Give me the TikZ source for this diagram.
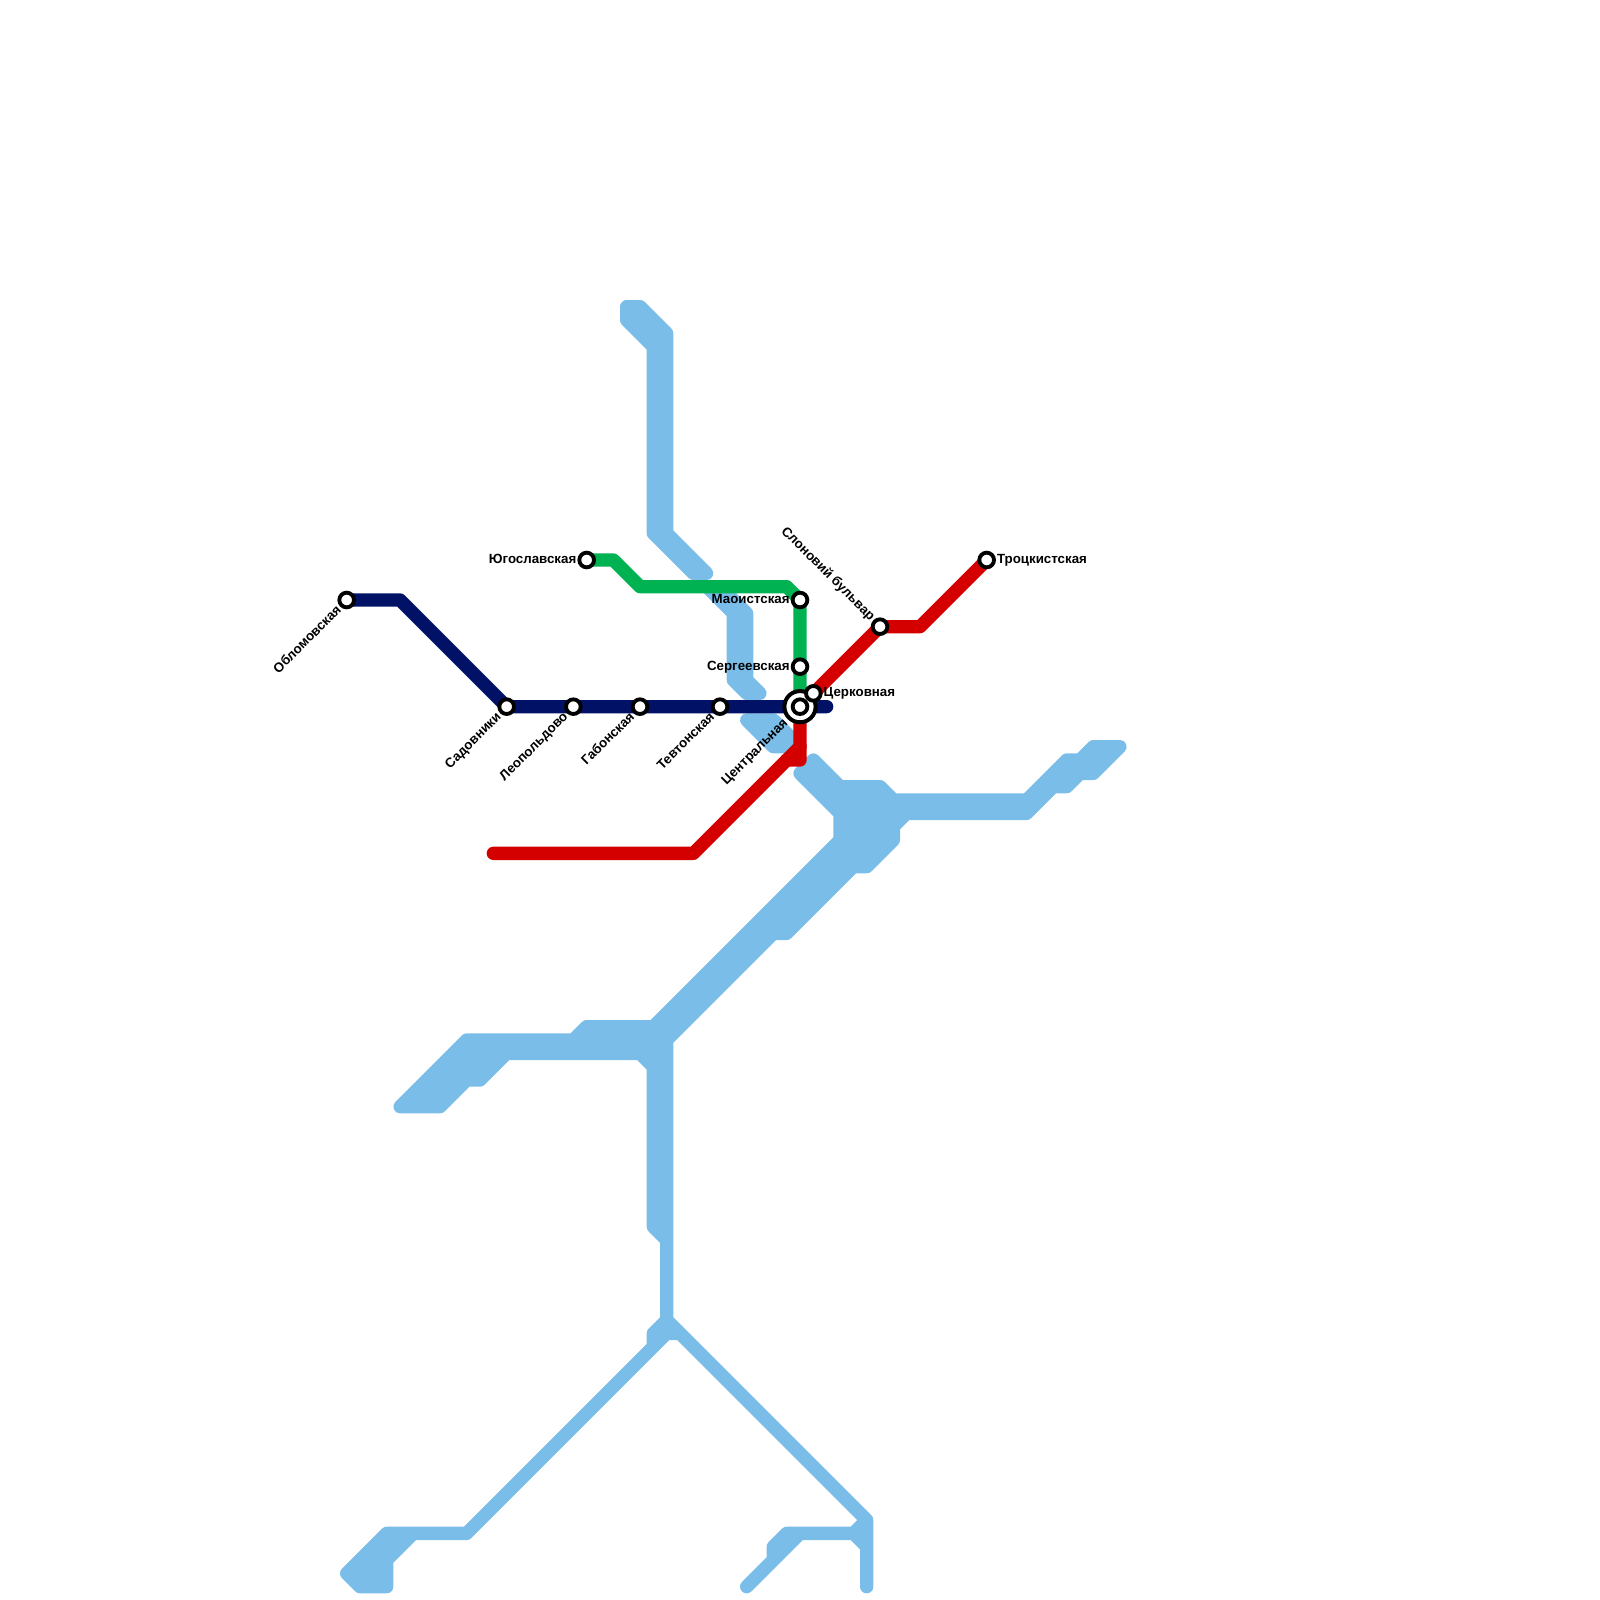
\documentclass[tikz,border=0pt]{standalone}
\usepackage{fontspec}
\setmainfont{Liberation Sans}
\usepackage{xcolor}
\usepackage{tikz}
\usetikzlibrary{backgrounds}
\definecolor{water_blue}{RGB}{122,189,233}
\definecolor{line_navy}{RGB}{0,17,102}
\definecolor{line_green}{RGB}{0,178,81}
\definecolor{line_red}{RGB}{212,0,0}
\tikzset{
    water/.style={
        draw=water_blue, fill=water_blue, line width=0.25cm, line join=round, line cap=round
    },
    metro_navy/.style={
        draw=line_navy, line width=0.25cm, line join=round, line cap=round
    },
    metro_green/.style={
        draw=line_green, line width=0.25cm, line join=round, line cap=round
    },
    metro_red/.style={
        draw=line_red, line width=0.25cm, line join=round, line cap=round
    },
    station/.style={
        circle, draw=black, fill=white, line width=0.072cm, minimum size=0.275cm, inner sep=0pt
    },
    station_ring/.style={
        circle, draw=black, fill=white, line width=0.075cm, minimum size=0.585cm, inner sep=0pt
    },
    lbl/.style={
        inner sep=0pt, font=\fontsize{7.1}{8}\selectfont\bfseries
    },
    lbl_left/.style={lbl, shift={(-0.75,0.25)}, anchor=base east},
    lbl_right/.style={lbl, shift={(0.75,0.25)}, anchor=base west},
    lbl_sw/.style={lbl, shift={(-0.35,0.8)}, rotate=45, anchor=base east},
    lbl_sw_far/.style={lbl, shift={(-0.85,1.25)}, rotate=45, anchor=base east},
    lbl_nw/.style={lbl, shift={(-0.75,-0.4)}, rotate=-45, anchor=base east}
}
\begin{document}
\begin{tikzpicture}[x=0.25cm, y=-0.25cm]
    \useasboundingbox (0,0) rectangle (120,120);

    \node[station_ring] (central_ring) at (60,53) {};
    \node[station] (central) at (60,53) {};
    \node[station] (oblomovskaya) at (26,45) {};
    \node[station] (sadovniki) at (38,53) {};
    \node[station] (leopoldovo) at (43,53) {};
    \node[station] (gabonskaya) at (48,53) {};
    \node[station] (tevtonskaya) at (54,53) {};
    \node[station] (yugoslavskaya) at (44,42) {};
    \node[station] (maoistskaya) at (60,45) {};
    \node[station] (sergeevskaya) at (60,50) {};
    \node[station] (tserkovnaya) at (61,52) {};
    \node[station] (slonovy) at (66,47) {};
    \node[station] (trotskistskaya) at (74,42) {};

    \coordinate (navy_bend) at (30,45);
    \coordinate (navy_end) at (62,53);
    \coordinate (green_a) at (46,42);
    \coordinate (green_b) at (48,44);
    \coordinate (green_c) at (59,44);
    \coordinate (red_start) at (37,64);
    \coordinate (red_a) at (52,64);
    \coordinate (red_b) at (60,56);
    \coordinate (red_c) at (59,57);
    \coordinate (red_d) at (60,57);
    \coordinate (red_e) at (69,47);

    \begin{pgfonlayer}{background}
        % water
        \draw[water] (47,23) -- (48,23) -- (50,25) -- (50,40) -- (53,43) -- (52,43) -- (49,40) -- (49,26) -- (47,24) -- cycle;
        \draw[water] (53,44) -- (54,44) -- (56,46) -- (56,51) -- (57,52) -- (56,52) -- (55,51) -- (55,46) -- cycle;
        \draw[water] (56,54) -- (58,54) -- (60,56) -- (58,56) -- cycle;
        \draw[water] (61,57) -- (63,59) -- (66,59) -- (67,60) -- (77,60) -- (80,57) -- (81,57) -- (82,56) -- (84,56)
            -- (82,58) -- (81,58) -- (80,59) -- (79,59) -- (77,61) -- (68,61) -- (67,62) -- (67,63) -- (65,65) -- (64,65)
            -- (59,70) -- (58,70) -- (50,78) -- (50,99) -- (65,114) -- (65,119) -- (65,116) -- (64,115) -- (60,115)
            -- (56,119) -- (58,117) -- (58,116) -- (59,115) -- (64,115) -- (65,114) -- (51,100) -- (50,100) -- (35,115)
            -- (31,115) -- (29,117) -- (29,119) -- (27,119) -- (26,118) -- (29,115) -- (35,115) -- (49,101) -- (49,100)
            -- (50,99) -- (50,93) -- (49,92) -- (49,80) -- (48,79) -- (38,79) -- (36,81) -- (35,81) -- (33,83) -- (30,83)
            -- (35,78) -- (43,78) -- (44,77) -- (49,77) -- (63,63) -- (63,61) -- (60,58) -- cycle;

        % lines
        \draw[metro_red] (red_start) -- (red_a) -- (red_b);
        \draw[metro_red] (red_c) -- (red_d) -- (central.center) -- (tserkovnaya.center) -- (slonovy.center) -- (red_e) -- (trotskistskaya.center);
        \draw[metro_green] (yugoslavskaya.center) -- (green_a) -- (green_b) -- (green_c) -- (maoistskaya.center) -- (sergeevskaya.center) -- (central.center);
        \draw[metro_navy] (oblomovskaya.center) -- (navy_bend) -- (sadovniki.center) -- (leopoldovo.center) -- (gabonskaya.center) -- (tevtonskaya.center) -- (central.center) -- (navy_end);
    \end{pgfonlayer}

    \node[lbl_sw] (oblomovskaya_lbl) at (oblomovskaya) {Обломовская};
    \node[lbl_sw] (sadovniki_lbl) at (sadovniki) {Садовники};
    \node[lbl_sw] (leopoldovo_lbl) at (leopoldovo) {Леопольдово};
    \node[lbl_sw] (gabonskaya_lbl) at (gabonskaya) {Габонская};
    \node[lbl_sw] (tevtonskaya_lbl) at (tevtonskaya) {Тевтонская};
    \node[lbl_sw_far] (central_lbl) at (central) {Центральная};
    \node[lbl_left] (yugoslavskaya_lbl) at (yugoslavskaya) {Югославская};
    \node[lbl_left] (maoistskaya_lbl) at (maoistskaya) {Маоистская};
    \node[lbl_left] (sergeevskaya_lbl) at (sergeevskaya) {Сергеевская};
    \node[lbl_right] (tserkovnaya_lbl) at (tserkovnaya) {Церковная};
    \node[lbl_right] (trotskistskaya_lbl) at (trotskistskaya) {Троцкистская};
    \node[lbl_nw] (slonovy_lbl) at (slonovy) {Слоновий бульвар};
\end{tikzpicture}
\end{document}
